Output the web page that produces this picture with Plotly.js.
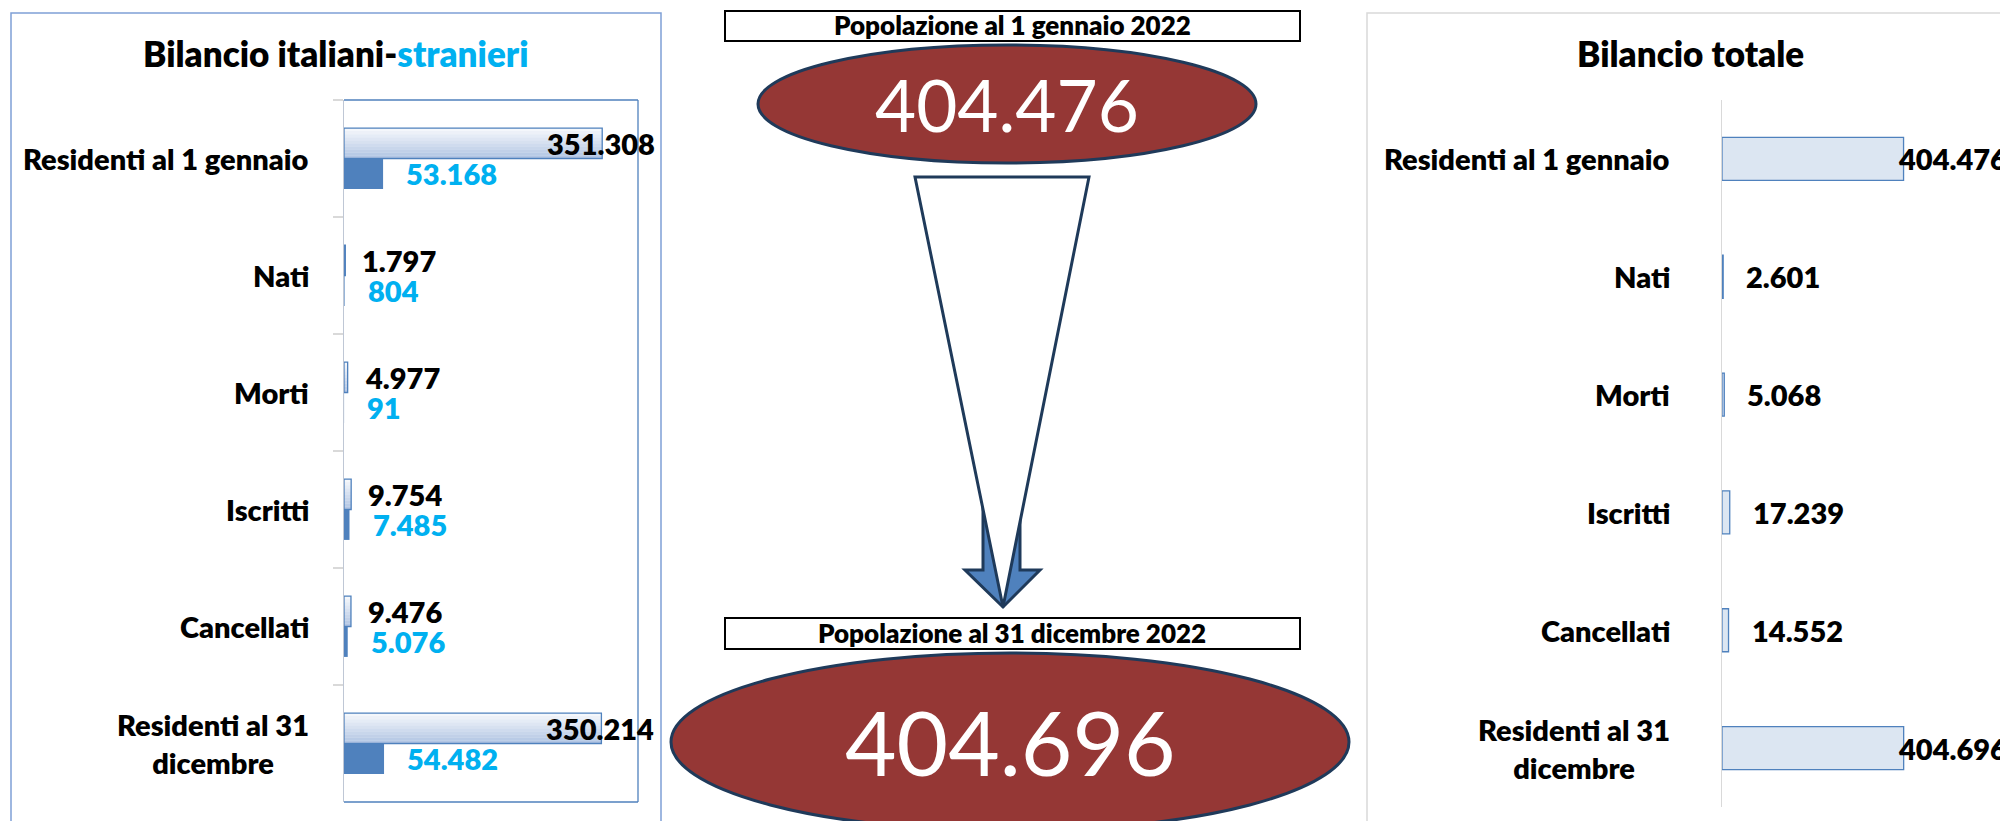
<!DOCTYPE html>
<html>
<head>
<meta charset="utf-8">
<script src="https://cdn.plot.ly/plotly-3.0.1.min.js"></script>
<style>
  html, body { margin: 0; padding: 0; background: #ffffff; }
  #chart { width: 2000px; height: 821px; }
</style>
</head>
<body>
<div id="chart"></div>
<script>
// ---------------- DATA ----------------
const categories = ["Residenti al 1 gennaio", "Nati", "Morti", "Iscritti", "Cancellati", "Residenti al 31 dicembre"];
const categoryLabels = ["Residenti al 1 gennaio", "Nati", "Morti", "Iscritti", "Cancellati", "Residenti al 31<br>dicembre"];
const italiani = [351308, 1797, 4977, 9754, 9476, 350214];
const stranieri = [53168, 804, 91, 7485, 5076, 54482];
const totale = [404476, 2601, 5068, 17239, 14552, 404696];
const titleLeft = "Bilancio italiani-";
const titleLeftColored = "stranieri";
const titleRight = "Bilancio totale";
const boxTop = "Popolazione al 1 gennaio 2022";
const boxBottom = "Popolazione al 31 dicembre 2022";

// ---------------- HELPERS ----------------
const W = 2000, H = 821;
const px = v => v / W;
const py = v => 1 - v / H;
const fmt = n => n.toString().replace(/\B(?=(\d{3})+(?!\d))/g, ".");
const FONT = "Lato, 'Liberation Sans', Arial, sans-serif";
const BOLD = 800;
const BLUE = "#4F81BD";
const CYAN = "#00B0F0";
const NAVY = "#1F3A5A";
const RED = "#953735";

const leftMax = 400000;
const rightMax = 450000;

// ---------------- TRACES ----------------
const traces = [];
// Italiani bar drawn as a vertical gradient (white at top -> light steel blue at bottom)
const gradTop = [244, 247, 251], gradBot = [178, 197, 227];
const nSlices = 10, barW = 0.26;
for (let k = 0; k < nSlices; k++) {
  const t = k / (nSlices - 1);
  const c = gradTop.map((v, j) => Math.round(v + (gradBot[j] - v) * t));
  traces.push({
    type: "bar", orientation: "h", name: "Italiani",
    y: categories, x: italiani, xaxis: "x", yaxis: "y",
    width: barW / nSlices + 0.002, offset: -barW + k * barW / nSlices,
    marker: { color: "rgb(" + c.join(",") + ")", line: { width: 0 } },
    hoverinfo: "skip"
  });
}
// Italiani outline
traces.push({
  type: "bar", orientation: "h", name: "Italiani",
  y: categories, x: italiani, xaxis: "x", yaxis: "y",
  width: barW, offset: -barW,
  marker: { color: "rgba(0,0,0,0)", line: { color: BLUE, width: 1.3 } },
  hoverinfo: "skip"
});
traces.push({
  type: "bar", orientation: "h", name: "Stranieri",
  y: categories, x: stranieri, xaxis: "x", yaxis: "y",
  width: barW, offset: 0,
  marker: { color: BLUE, line: { width: 0 } },
  hoverinfo: "skip"
});
traces.push({
  type: "bar", orientation: "h", name: "Totale",
  y: categories, x: totale, xaxis: "x2", yaxis: "y2",
  width: 0.365, offset: -0.1825,
  marker: { color: "#DCE6F2", line: { color: BLUE, width: 1.3 } },
  hoverinfo: "skip"
});

// ---------------- ANNOTATIONS ----------------
const annotations = [];
// titles
annotations.push({
  xref: "paper", yref: "paper", x: px(335), y: py(53), xanchor: "center", yanchor: "middle",
  text: titleLeft + "<span style='color:" + CYAN + "'>" + titleLeftColored + "</span>",
  showarrow: false, font: { family: FONT, size: 35, color: "#000000", weight: BOLD }
});
annotations.push({
  xref: "paper", yref: "paper", x: px(1690), y: py(53), xanchor: "center", yanchor: "middle",
  text: titleRight,
  showarrow: false, font: { family: FONT, size: 35, color: "#000000", weight: BOLD }
});
// category labels
categories.forEach((c, i) => {
  annotations.push({
    xref: "x domain", yref: "y", x: 0, y: i, xanchor: "right", yanchor: "middle", xshift: -33,
    align: "center", text: categoryLabels[i], showarrow: false,
    font: { family: FONT, size: 29, color: "#000000", weight: BOLD }
  });
  annotations.push({
    xref: "x2 domain", yref: "y2", x: 0, y: i, xanchor: "right", yanchor: "middle", xshift: -50,
    align: "center", text: categoryLabels[i], showarrow: false,
    font: { family: FONT, size: 29, color: "#000000", weight: BOLD }
  });
});
// value labels
italiani.forEach((v, i) => {
  const big = v > leftMax / 2;
  annotations.push({
    xref: "x", yref: "y", x: v, y: i - 0.13, xanchor: big ? "center" : "left", yanchor: "middle",
    xshift: big ? -1 : 15, text: fmt(v), showarrow: false,
    font: { family: FONT, size: 29, color: "#000000", weight: BOLD }
  });
});
stranieri.forEach((v, i) => {
  annotations.push({
    xref: "x", yref: "y", x: v, y: i + 0.13, xanchor: "left", yanchor: "middle",
    xshift: 21, text: fmt(v), showarrow: false,
    font: { family: FONT, size: 29, color: CYAN, weight: BOLD }
  });
});
totale.forEach((v, i) => {
  const big = v > rightMax / 2;
  annotations.push({
    xref: "x2", yref: "y2", x: v, y: i, xanchor: "left", yanchor: "middle",
    xshift: big ? -8 : 21, text: fmt(v), showarrow: false,
    font: { family: FONT, size: 29, color: "#000000", weight: BOLD }
  });
});
// middle texts
annotations.push({
  xref: "paper", yref: "paper", x: px(1012), y: py(25), xanchor: "center", yanchor: "middle",
  text: boxTop, showarrow: false, font: { family: FONT, size: 26, color: "#000000", weight: BOLD }
});
annotations.push({
  xref: "paper", yref: "paper", x: px(1012), y: py(633), xanchor: "center", yanchor: "middle",
  text: boxBottom, showarrow: false, font: { family: FONT, size: 26, color: "#000000", weight: BOLD }
});
annotations.push({
  xref: "paper", yref: "paper", x: px(1007), y: py(104), xanchor: "center", yanchor: "middle",
  text: fmt(totale[0]), showarrow: false, font: { family: FONT, size: 71, color: "#FFFFFF" }
});
annotations.push({
  xref: "paper", yref: "paper", x: px(1010), y: py(741), xanchor: "center", yanchor: "middle",
  text: fmt(totale[totale.length - 1]), showarrow: false, font: { family: FONT, size: 89, color: "#FFFFFF" }
});

// ---------------- SHAPES ----------------
const P = (x, y) => px(x).toFixed(5) + "," + py(y).toFixed(5);
const shapes = [
  // left panel border
  { type: "rect", xref: "paper", yref: "paper", x0: px(11), x1: px(661), y0: py(13), y1: py(840),
    line: { color: "#7FA0D6", width: 1.5 }, fillcolor: "rgba(0,0,0,0)", layer: "below" },
  // right panel border
  { type: "rect", xref: "paper", yref: "paper", x0: px(1367), x1: px(2020), y0: py(13), y1: py(840),
    line: { color: "#D9D9D9", width: 1.5 }, fillcolor: "rgba(0,0,0,0)", layer: "below" },
  // left plot area border (top, right, bottom)
  { type: "line", xref: "x domain", yref: "y domain", x0: 0, x1: 1, y0: 1, y1: 1, line: { color: BLUE, width: 1.3 } },
  { type: "line", xref: "x domain", yref: "y domain", x0: 1, x1: 1, y0: 0, y1: 1, line: { color: BLUE, width: 1.3 } },
  { type: "line", xref: "x domain", yref: "y domain", x0: 0, x1: 1, y0: 0, y1: 0, line: { color: BLUE, width: 1.3 } },
  // top box
  { type: "rect", xref: "paper", yref: "paper", x0: px(725), x1: px(1300), y0: py(11), y1: py(41),
    line: { color: "#000000", width: 2 }, fillcolor: "#FFFFFF" },
  // top ellipse
  { type: "circle", xref: "paper", yref: "paper", x0: px(758), x1: px(1256), y0: py(45), y1: py(163),
    line: { color: NAVY, width: 3 }, fillcolor: RED },
  // blue arrow
  { type: "path", xref: "paper", yref: "paper",
    path: "M" + P(983, 440) + " L" + P(1020, 440) + " L" + P(1020, 570) + " L" + P(1040, 570) +
          " L" + P(1003, 607) + " L" + P(965, 570) + " L" + P(983, 570) + " Z",
    line: { color: NAVY, width: 3 }, fillcolor: BLUE },
  // white triangle
  { type: "path", xref: "paper", yref: "paper",
    path: "M" + P(915, 177) + " L" + P(1089, 177) + " L" + P(1003, 607) + " Z",
    line: { color: NAVY, width: 3 }, fillcolor: "#FFFFFF" },
  // bottom box
  { type: "rect", xref: "paper", yref: "paper", x0: px(725), x1: px(1300), y0: py(618), y1: py(649),
    line: { color: "#000000", width: 2 }, fillcolor: "#FFFFFF" },
  // bottom ellipse
  { type: "circle", xref: "paper", yref: "paper", x0: px(671), x1: px(1349), y0: py(653), y1: py(831),
    line: { color: NAVY, width: 3 }, fillcolor: RED }
];

// ---------------- LAYOUT ----------------
const layout = {
  width: W, height: H,
  margin: { l: 0, r: 0, t: 0, b: 0, pad: 0 },
  paper_bgcolor: "#FFFFFF", plot_bgcolor: "rgba(0,0,0,0)",
  showlegend: false, barmode: "overlay",
  font: { family: FONT },
  xaxis: { domain: [px(344), px(638)], range: [0, leftMax], anchor: "y",
           showgrid: false, zeroline: false, showline: false, showticklabels: false, ticks: "", fixedrange: true },
  yaxis: { domain: [py(802), py(100)], type: "category", autorange: "reversed", anchor: "x",
           showgrid: false, zeroline: false, showline: true, linecolor: "#BFC7D5", linewidth: 1.3,
           ticks: "outside", tickson: "boundaries", ticklen: 10, tickcolor: "#D9D9D9", tickwidth: 1.3,
           showticklabels: false, fixedrange: true },
  xaxis2: { domain: [px(1722), px(1924)], range: [0, rightMax], anchor: "y2",
            showgrid: false, zeroline: false, showline: false, showticklabels: false, ticks: "", fixedrange: true },
  yaxis2: { domain: [py(807), py(100)], type: "category", autorange: "reversed", anchor: "x2",
            showgrid: false, zeroline: false, showline: true, linecolor: "#D9D9D9", linewidth: 1.3,
            ticks: "", showticklabels: false, fixedrange: true },
  annotations: annotations,
  shapes: shapes
};

Plotly.newPlot("chart", traces, layout, { displayModeBar: false, staticPlot: true });
</script>
</body>
</html>
